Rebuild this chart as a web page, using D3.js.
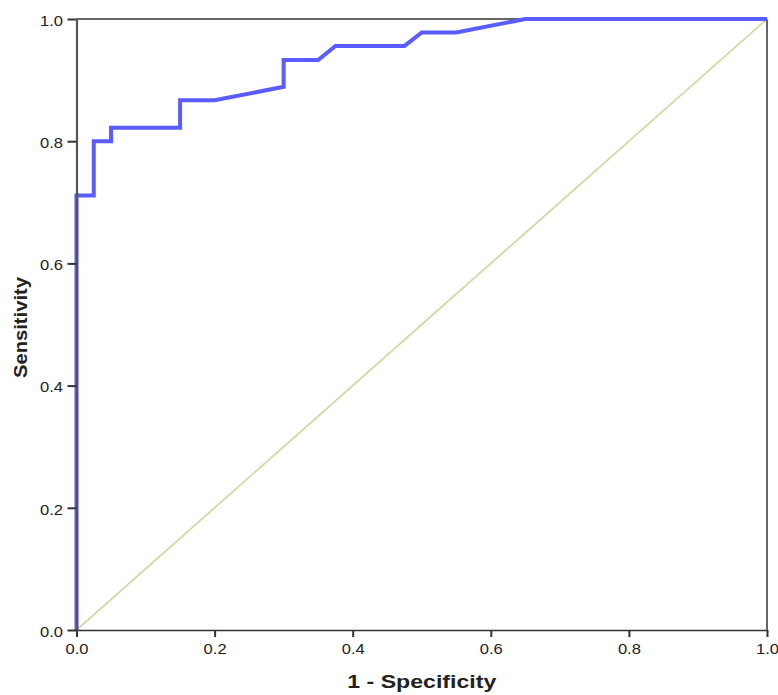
<!DOCTYPE html>
<html>
<head>
<meta charset="utf-8">
<script src="https://cdn.jsdelivr.net/npm/d3@7"></script>
<style>
  body { margin: 0; background: #fff; }
  svg { display: block; font-family: "Liberation Sans", Arial, sans-serif; }
</style>
</head>
<body>
<div id="roc"></div>
<script>
// ROC curve points: 1 - specificity, sensitivity
var fpr = [0, 0, 0.025, 0.025, 0.05, 0.05, 0.15, 0.15, 0.2, 0.3, 0.3, 0.35, 0.375, 0.475, 0.5, 0.55, 0.65, 1];
var tpr = [0, 0.711, 0.711, 0.8, 0.8, 0.822, 0.822, 0.867, 0.867, 0.889, 0.933, 0.933, 0.956, 0.956, 0.978, 0.978, 1, 1];
var refLine = [[0, 0], [1, 1]];
var tickValues = [0, 0.2, 0.4, 0.6, 0.8, 1.0];

var margin = {top: 19, right: 11, bottom: 65, left: 76.5},
    width = 778 - margin.left - margin.right,
    height = 695 - margin.top - margin.bottom;

var svg = d3.select("#roc").append("svg")
    .attr("width", 778)
    .attr("height", 695)
  .append("g")
    .attr("transform", "translate(" + margin.left + "," + margin.top + ")");

var x = d3.scaleLinear().domain([0, 1]).range([0, width]);
var y = d3.scaleLinear().domain([0, 1]).range([height, 0]);

// frame (top and right)
svg.append("line")
    .attr("x1", 0).attr("x2", width)
    .attr("y1", 0).attr("y2", 0)
    .style("stroke", "#333").style("stroke-width", 1.5);
svg.append("line")
    .attr("x1", width).attr("x2", width)
    .attr("y1", 0).attr("y2", height)
    .style("stroke", "#666").style("stroke-width", 2);

// reference diagonal
svg.append("path")
    .datum(refLine)
    .attr("d", d3.line().x(function (d) { return x(d[0]); }).y(function (d) { return y(d[1]); }))
    .style("fill", "none")
    .style("stroke", "#d9d5a7")
    .style("stroke-width", 1.8);

// ROC curve
var pts = fpr.map(function (v, i) { return [v, tpr[i]]; });
svg.append("path")
    .datum(pts)
    .attr("d", d3.line().x(function (d) { return x(d[0]); }).y(function (d) { return y(d[1]); }))
    .style("fill", "none")
    .style("stroke", "#5a5cff")
    .style("stroke-width", 4)
    .style("stroke-linejoin", "miter");

// axes
var xAxis = d3.axisBottom(x).tickValues(tickValues).tickFormat(d3.format(".1f")).tickSize(7).tickSizeOuter(0);
var yAxis = d3.axisLeft(y).tickValues(tickValues).tickFormat(d3.format(".1f")).tickSize(9).tickSizeOuter(0);

var gx = svg.append("g")
    .attr("transform", "translate(0," + height + ")")
    .call(xAxis);
gx.select(".domain").style("stroke", "#333").style("stroke-width", 1.5);
gx.selectAll(".tick line").style("stroke", "#333").style("stroke-width", 2);
gx.selectAll(".tick text")
    .attr("y", 24)
    .attr("dy", 0)
    .attr("textLength", 23)
    .attr("lengthAdjust", "spacingAndGlyphs")
    .style("font-size", "15px").style("fill", "#222")
    .style("font-family", "Liberation Sans, Arial, sans-serif");

var gy = svg.append("g").call(yAxis);
gy.select(".domain").style("stroke", "#555").style("stroke-width", 2.2);
gy.selectAll(".tick line").style("stroke", "#333").style("stroke-width", 2);
gy.selectAll(".tick text")
    .attr("x", -13.5)
    .attr("dy", "0.42em")
    .attr("textLength", 23)
    .attr("lengthAdjust", "spacingAndGlyphs")
    .style("font-size", "15px").style("fill", "#222")
    .style("font-family", "Liberation Sans, Arial, sans-serif");

// axis titles
svg.append("text")
    .attr("x", width / 2)
    .attr("y", height + 58)
    .attr("text-anchor", "middle")
    .attr("textLength", 149)
    .attr("lengthAdjust", "spacingAndGlyphs")
    .style("font-size", "18px")
    .style("font-weight", "bold")
    .style("fill", "#222")
    .text("1 - Specificity");

svg.append("text")
    .attr("transform", "translate(" + (-49.5) + "," + (height / 2 + 3) + ") rotate(-90)")
    .attr("text-anchor", "middle")
    .attr("textLength", 101)
    .attr("lengthAdjust", "spacingAndGlyphs")
    .style("font-size", "18px")
    .style("font-weight", "bold")
    .style("fill", "#222")
    .text("Sensitivity");
</script>
</body>
</html>
